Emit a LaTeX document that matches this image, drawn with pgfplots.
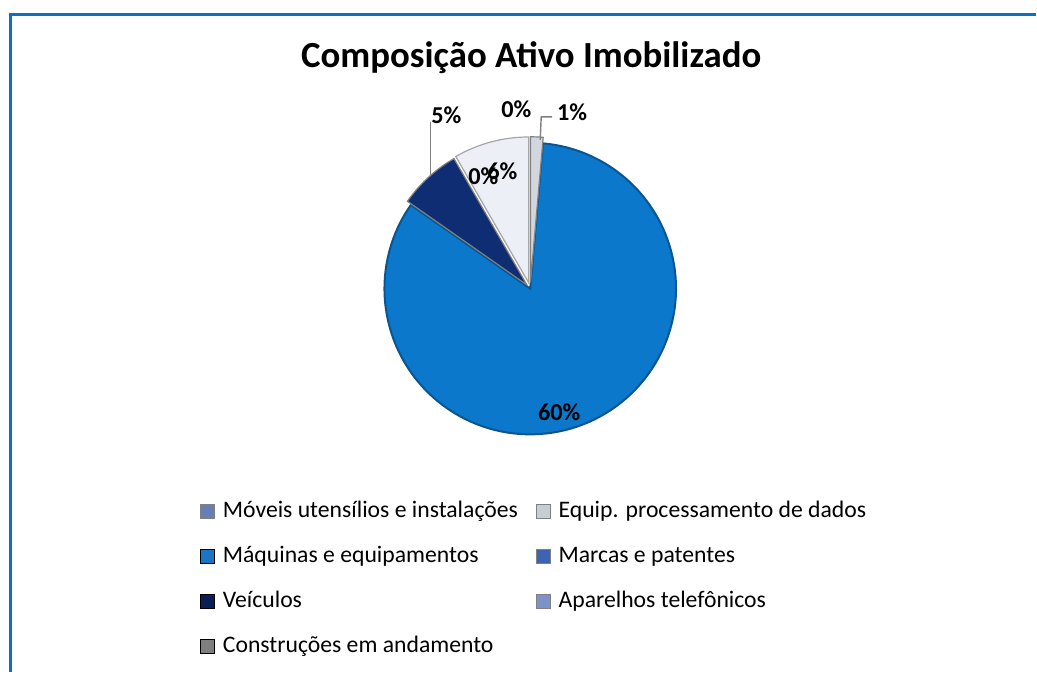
\documentclass[border=0pt]{standalone}
\usepackage{pgfplots}
\pgfplotsset{compat=1.18}
\usepackage{fontspec}
\setmainfont{Carlito}

\definecolor{frameblue}{HTML}{0B6FC4}
\definecolor{cBlue}{HTML}{0B78CC}
\definecolor{cBlueEdge}{HTML}{0A558F}
\definecolor{cNavy}{HTML}{0E2D72}
\definecolor{cWhite}{HTML}{EDEFF6}
\definecolor{cThin}{HTML}{D2D6DE}
\definecolor{lMov}{HTML}{6680B6}
\definecolor{lEqu}{HTML}{C9CDD5}
\definecolor{lMaq}{HTML}{1C74C4}
\definecolor{lMar}{HTML}{3C64B2}
\definecolor{lVei}{HTML}{0B1F55}
\definecolor{lApa}{HTML}{7D92C6}
\definecolor{lCon}{HTML}{7F7F7F}

% data (values of the slices, clockwise from 12 o'clock)
\def\vMov{1}
\def\vEqu{0}
\def\vMaq{60}
\def\vMar{0}
\def\vVei{5}
\def\vApa{6}
\def\vCon{0}

\newcommand\slice[4]{%
  \pgfmathsetmacro\smid{(#1+#2)/2}%
  \pgfmathsetmacro\scx{531+#3*cos(\smid)}%
  \pgfmathsetmacro\scy{384+#3*sin(\smid)}%
  \edef\doslice{\noexpand\addplot[#4, domain=#2:#1, samples=120, forget plot]
    ({\scx+146*cos(x)},{\scy+146*sin(x)}) -- (axis cs:\scx,\scy) -- cycle;}%
  \doslice
}

\begin{document}
\begin{tikzpicture}
\pgfmathsetmacro\T{\vMov+\vEqu+\vMaq+\vMar+\vVei+\vApa+\vCon}
\pgfmathsetmacro\aA{90}
\pgfmathsetmacro\aB{\aA-\vMov/\T*360}
\pgfmathsetmacro\aC{\aB-\vEqu/\T*360}
\pgfmathsetmacro\aD{\aC-\vMaq/\T*360}
\pgfmathsetmacro\aE{\aD-\vMar/\T*360}
\pgfmathsetmacro\aF{\aE-\vVei/\T*360}
\pgfmathsetmacro\aG{\aF-\vApa/\T*360}
\begin{axis}[
  width=518.5bp, height=336.5bp, scale only axis,
  xmin=0, xmax=1037, ymin=0, ymax=673,
  hide axis, clip=false,
  legend columns=2,
  legend cell align=left,
  legend image code/.code={\fill[#1] (0bp,-3.5bp) rectangle (7bp,3.5bp);},
  legend style={draw=none, fill=none, at={(0.1929,0.2571)}, anchor=north west,
    inner sep=0pt, font=\fontsize{11.9}{14}\selectfont,
    nodes={inner sep=0pt, text height=9bp, text depth=3bp},
    /tikz/every odd column/.append style={column sep=4bp},
    /tikz/every even column/.append style={column sep=9bp},
    row sep=10.5bp},
]
% page extent
\path (axis cs:0,0) rectangle (axis cs:1037,673);
% frame
\draw[frameblue, line width=1.5bp] (axis cs:10.5,0) -- (axis cs:10.5,658.7) -- (axis cs:1037,658.7);
% title
\node[font=\fontsize{18.5}{22}\selectfont\bfseries] at (axis cs:532,615) {Composição Ativo Imobilizado};
% slices
\slice{\aC}{\aD}{0}{fill=cBlue, draw=cBlueEdge, line width=1bp}
\slice{\aE}{\aF}{5}{fill=cNavy, draw=gray, line width=0.6bp}
\slice{\aF}{\aG}{6}{fill=cWhite, draw=gray!70, line width=0.6bp}
\slice{\aA}{\aB}{6}{fill=cThin, draw=gray, line width=0.6bp}
% leader lines
\draw[gray, line width=0.7bp] (axis cs:431,551) -- (axis cs:431,497);
\draw[gray, line width=0.7bp] (axis cs:553,556) -- (axis cs:542,556) -- (axis cs:541,533);
% data labels
\begin{scope}[every node/.style={font=\fontsize{12.2}{14}\selectfont\bfseries}]
\node at (axis cs:560,260) {60\%};
\node at (axis cs:447,558) {5\%};
\node at (axis cs:517,564) {0\%};
\node at (axis cs:573,561) {1\%};
\node at (axis cs:503,502) {6\%};
\node at (axis cs:484,497) {0\%};
\end{scope}
% legend
\addlegendimage{fill=lMov, draw=gray}\addlegendentry{Móveis utensílios e instalações}
\addlegendimage{fill=lEqu, draw=gray}\addlegendentry{Equip. processamento de dados}
\addlegendimage{fill=lMaq}\addlegendentry{Máquinas e equipamentos}
\addlegendimage{fill=lMar, draw=gray}\addlegendentry{Marcas e patentes}
\addlegendimage{fill=lVei}\addlegendentry{Veículos}
\addlegendimage{fill=lApa, draw=gray}\addlegendentry{Aparelhos telefônicos}
\addlegendimage{fill=lCon}\addlegendentry{Construções em andamento}
\end{axis}
\end{tikzpicture}
\end{document}
